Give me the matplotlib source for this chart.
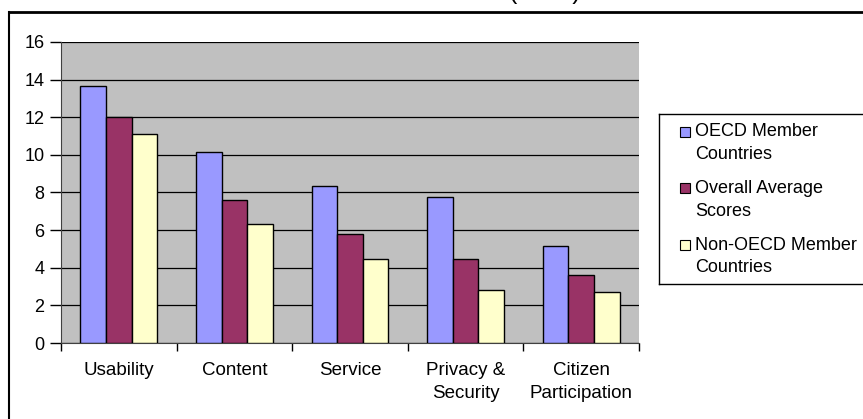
import numpy as np
import matplotlib.pyplot as plt
from matplotlib.lines import Line2D
from matplotlib.patches import Rectangle

plt.rcParams["font.family"] = ["Liberation Sans", "DejaVu Sans"]

categories = ["Usability", "Content", "Service", "Privacy &\nSecurity", "Citizen\nParticipation"]
series_names = ["OECD Member\nCountries", "Overall Average\nScores", "Non-OECD Member\nCountries"]
oecd = [13.65, 10.15, 8.35, 7.75, 5.15]
overall = [12.0, 7.6, 5.8, 4.45, 3.6]
non_oecd = [11.1, 6.3, 4.45, 2.8, 2.7]
colors = ["#9999FF", "#993366", "#FFFFCC"]

W, H = 863, 419
fig = plt.figure(figsize=(W / 100, H / 100), dpi=100)
ax = fig.add_axes([61 / W, 1 - 343 / H, 578 / W, 301 / H])
ax.set_facecolor("#C0C0C0")

x = np.arange(len(categories))
bw = 0.222
for i, (vals, c) in enumerate(zip([oecd, overall, non_oecd], colors)):
    ax.bar(x + (i - 1) * bw, vals, width=bw, color=c, edgecolor="black",
           linewidth=1.0, zorder=3)

ax.set_xlim(-0.5, len(categories) - 0.5)
ax.set_ylim(0, 16)
ax.set_yticks(range(0, 17, 2))
ax.yaxis.grid(True, color="black", linewidth=0.9, zorder=0)
ax.set_axisbelow(True)

ax.set_xticks(x)
ax.set_xticklabels(categories, fontsize=13.5, linespacing=1.45)
ax.set_xticks(np.arange(-0.5, len(categories), 1.0), minor=True)
ax.tick_params(axis="x", which="major", length=0, pad=14)
ax.tick_params(axis="x", which="minor", length=6, width=1, direction="out")
ax.tick_params(axis="y", length=8, width=1, direction="out", labelsize=13, pad=4)

for s in ["top", "right"]:
    ax.spines[s].set_visible(False)
ax.spines["left"].set_color("#404040")
ax.spines["bottom"].set_color("#404040")

# legend drawn by hand, Excel style (frame runs off the right edge)
ft = fig.transFigure
fig.add_artist(Line2D([659 / W, 1], [1 - 114 / H] * 2, color="black", lw=1, transform=ft))
fig.add_artist(Line2D([659 / W, 1], [1 - 284 / H] * 2, color="black", lw=1, transform=ft))
fig.add_artist(Line2D([659 / W] * 2, [1 - 114 / H, 1 - 284 / H], color="black", lw=1, transform=ft))
for i, (name, c) in enumerate(zip(series_names, colors)):
    y0 = 132 + i * 56.5
    fig.add_artist(Rectangle((680 / W, 1 - (y0 + 5) / H), 10 / W, 10 / H,
                             facecolor=c, edgecolor="black", lw=0.8, transform=ft))
    for j, line in enumerate(name.split("\n")):
        fig.text(695 / W, 1 - (y0 + j * 22.5) / H, line, ha="left", va="center",
                 fontsize=13)

# outer chart frame
fig.add_artist(Line2D([9 / W, 1], [1 - 12 / H, 1 - 12 / H], color="black",
                      linewidth=2, transform=ft))
fig.add_artist(Line2D([9 / W, 9 / W], [0, 1 - 12 / H], color="black",
                      linewidth=1.5, transform=ft))

# title cut off at top
fig.text(545 / W, 1 + 1 / H, "(2003)", ha="center", va="baseline", fontsize=18)

fig.savefig("out.png", dpi=100)
